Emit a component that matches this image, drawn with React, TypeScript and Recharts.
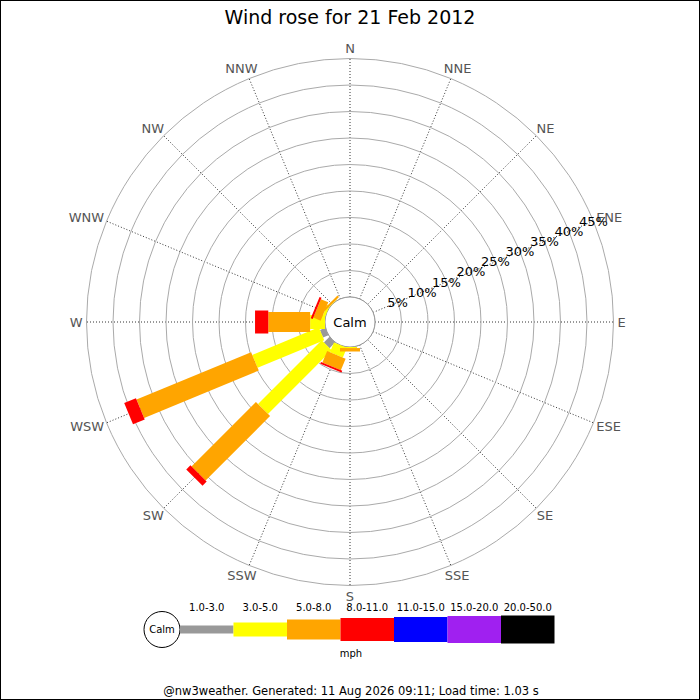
import React from 'react';
import { RadialBarChart, RadialBar, PolarGrid, PolarAngleAxis, PolarRadiusAxis, Customized } from 'recharts';

// Compass directions (categories)
const directions = ['N', 'NNE', 'NE', 'ENE', 'E', 'ESE', 'SE', 'SSE', 'S', 'SSW', 'SW', 'WSW', 'W', 'WNW', 'NW', 'NNW'];

// Frequency (%) per speed class, stacked outward
const mph1to3 = [0, 0, 0, 0, 0, 0, 0, 0, 0, 0, 1.5, 1.1, 0, 0, 0, 0];
const mph3to5 = [0, 0, 0, 0, 0, 0, 0, 0, 0.2, 2.0, 17.0, 13.6, 2.8, 0.5, 0.1, 0];
const mph5to8 = [0, 0, 0, 0, 0, 0, 0, 0, 0.65, 2.35, 17.2, 23.4, 7.9, 1.5, 0.4, 0];
const mph8to11 = [0, 0, 0, 0, 0, 0, 0, 0, 0, 0.35, 1.1, 2.4, 2.5, 0.4, 0, 0];
const mph11to15 = [0, 0, 0, 0, 0, 0, 0, 0, 0, 0, 0, 0, 0, 0, 0, 0];
const mph15to20 = [0, 0, 0, 0, 0, 0, 0, 0, 0, 0, 0, 0, 0, 0, 0, 0];
const mph20to50 = [0, 0, 0, 0, 0, 0, 0, 0, 0, 0, 0, 0, 0, 0, 0, 0];

const speedLabels = ['1.0-3.0', '3.0-5.0', '5.0-8.0', '8.0-11.0', '11.0-15.0', '15.0-20.0', '20.0-50.0'];
const radialTicks = [0, 5, 10, 15, 20, 25, 30, 35, 40, 45];

const seriesValues = [mph1to3, mph3to5, mph5to8, mph8to11, mph11to15, mph15to20, mph20to50];
const seriesKeys = ['s1', 's2', 's3', 's4', 's5', 's6', 's7'];

// styles
const speedColors = ['#999999', '#ffff00', '#ffa500', '#ff0000', '#0000ff', '#a020f0', '#000000'];
const speedWidths = [8, 14, 20, 23, 25, 27, 28];

const data = directions.map((dir, i) => {
  const row: any = { dir };
  seriesKeys.forEach((k, j) => { row[k] = seriesValues[j][i]; });
  return row;
});

const FONT = '"DejaVu Sans", Verdana, sans-serif';
const RAD = Math.PI / 180;
const CX = 350;
const CY = 322;
const INNER = 25;
const OUTER = 263.5;
// Recharts places a category bar one half-band after its tick; re-centre on the tick
const HALF_BAND = 360 / directions.length / 2;

const makeShape = (w: number) => (props: any) => {
  const { cx, cy, innerRadius, outerRadius, startAngle, endAngle, fill } = props;
  if (!(outerRadius - innerRadius > 0.01)) return <g />;
  const a = ((startAngle + endAngle) / 2 - HALF_BAND) * RAD;
  const ux = Math.cos(-a);
  const uy = Math.sin(-a);
  const nx = -uy;
  const ny = ux;
  const h = w / 2;
  const x0 = cx + innerRadius * ux;
  const y0 = cy + innerRadius * uy;
  const x1 = cx + outerRadius * ux;
  const y1 = cy + outerRadius * uy;
  const d = `M${x0 + nx * h},${y0 + ny * h}L${x1 + nx * h},${y1 + ny * h}L${x1 - nx * h},${y1 - ny * h}L${x0 - nx * h},${y0 - ny * h}Z`;
  return <path d={d} fill={fill} stroke="none" />;
};

const charW: Record<string, number> = { N: 9.73, E: 8.21, S: 8.25, W: 12.85 };

const AngleTick = (props: any) => {
  const { x, y, payload } = props;
  const a = payload.coordinate * RAD;
  const label = String(payload.value);
  const w = label.split('').reduce((s: number, c: string) => s + (charW[c] || 8.5), 0);
  const tx = x + Math.cos(a) * w / 2;
  const ty = y - Math.sin(a) * 6.5;
  return (
    <text x={tx} y={ty} textAnchor="middle" dominantBaseline="central" fontSize={13} fill="#555" fontFamily={FONT}>
      {label}
    </text>
  );
};

const RadiusTick = (props: any) => {
  const { x, y, payload } = props;
  if (payload.value === 0) return <g />;
  return (
    <text x={x} y={y} textAnchor="middle" dominantBaseline="central" fontSize={13} fill="#000" fontFamily={FONT}>
      {`${payload.value}%`}
    </text>
  );
};

const CalmCircle = () => (
  <g>
    <circle cx={CX} cy={CY} r={INNER} fill="#fff" stroke="#999" strokeWidth={1} />
    <text x={CX} y={CY} textAnchor="middle" dominantBaseline="central" fontSize={13} fill="#000" fontFamily={FONT}>Calm</text>
  </g>
);

const Legend = () => {
  const x0 = 180;
  const segW = 53.5;
  const yc = 629.5;
  return (
    <g>
      <circle cx={162} cy={yc} r={18} fill="#fff" stroke="#000" strokeWidth={1} />
      <text x={162} y={yc} textAnchor="middle" dominantBaseline="central" fontSize={10} fill="#000" fontFamily={FONT}>Calm</text>
      {speedLabels.map((lab, i) => (
        <g key={lab}>
          <rect x={x0 + i * segW} y={yc - speedWidths[i] / 2} width={segW} height={speedWidths[i]} fill={speedColors[i]} />
          <text x={x0 + i * segW + segW / 2} y={611} textAnchor="middle" fontSize={10} fill="#000" fontFamily={FONT}>{lab}</text>
        </g>
      ))}
      <text x={351} y={657} textAnchor="middle" fontSize={10} fill="#000" fontFamily={FONT}>mph</text>
    </g>
  );
};

export default function App() {
  return (
    <div style={{ position: 'absolute', left: 0, top: 0, width: 700, height: 700, background: '#fff' }}>
      <div style={{ position: 'absolute', left: 0, top: 0 }}>
        <RadialBarChart
          width={700}
          height={700}
          cx={CX}
          cy={CY}
          innerRadius={INNER}
          outerRadius={OUTER}
          startAngle={90}
          endAngle={-270}
          layout="centric"
          data={data}
          barCategoryGap="10%"
          margin={{ top: 0, right: 0, bottom: 0, left: 0 }}
        >
          <PolarGrid gridType="circle" radialLines={true} polarRadius={[]} stroke="#333" strokeDasharray="1 2" />
          <PolarGrid gridType="circle" radialLines={false} stroke="#aaa" />
          <PolarAngleAxis type="category" dataKey="dir" tick={AngleTick} tickLine={false} axisLine={false} tickSize={4} />
          <PolarRadiusAxis type="number" domain={[0, 45]} ticks={radialTicks} angle={22.5} axisLine={false} tickLine={false} tick={RadiusTick} />
          {seriesKeys.map((k, j) => (
            <RadialBar
              key={k}
              dataKey={k}
              stackId="a"
              fill={speedColors[j]}
              isAnimationActive={false}
              shape={makeShape(speedWidths[j])}
            />
          ))}
          <Customized component={CalmCircle} />
        </RadialBarChart>
      </div>
      <svg width={700} height={700} style={{ position: 'absolute', left: 0, top: 0, pointerEvents: 'none' }}>
        <text x={350} y={24} textAnchor="middle" fontSize={19} fill="#000" fontFamily={FONT}>Wind rose for 21 Feb 2012</text>
        <Legend />
        <text x={351} y={695} textAnchor="middle" fontSize={11.5} fill="#000" fontFamily={FONT}>@nw3weather. Generated: 11 Aug 2026 09:11; Load time: 1.03 s</text>
        <rect x={0.5} y={0.5} width={699} height={699} fill="none" stroke="#000" strokeWidth={1} />
      </svg>
    </div>
  );
}
